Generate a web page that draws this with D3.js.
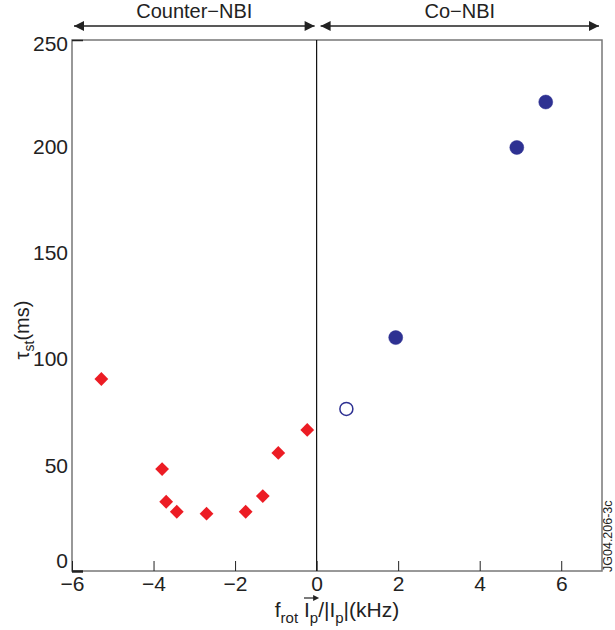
<!DOCTYPE html>
<html>
<head>
<meta charset="utf-8">
<script src="https://cdn.jsdelivr.net/npm/d3@7"></script>
<style>
    body { margin: 0; background: #fff; }
    text { font-family: "Liberation Sans", Arial, sans-serif; fill: #222; }
</style>
</head>
<body>
<div id="chart"></div>
<script>
(function () {
    'use strict';

    // counter-NBI shots (red diamonds)
    var counterX = [-5.28, -3.79, -3.69, -3.43, -2.70, -1.74, -1.32, -0.94, -0.23],
        counterY = [90.4, 48.0, 32.6, 27.9, 27.0, 27.9, 35.3, 55.6, 66.4],
        // co-NBI shots (blue circles), first one drawn open
        coX = [0.73, 1.94, 4.91, 5.62],
        coY = [76.3, 109.9, 199.4, 220.8],
        coOpen = [true, false, false, false],
        xTicks = [-6, -4, -2, 0, 2, 4, 6],
        yTicks = [0, 50, 100, 150, 200, 250],
        regions = [
            { label: 'Counter\u2212NBI', from: -6, to: 0 },
            { label: 'Co\u2212NBI', from: 0, to: 7 }
        ];

    var width = 615,
        height = 630,
        left = 72, right = 602, top = 40, bottom = 571,

        svg = d3.select('#chart')
            .append('svg')
            .attr('width', width)
            .attr('height', height),

        x = d3.scaleLinear().domain([-6, 7]).range([left, right]),
        y = d3.scaleLinear().domain([0, 250]).range([bottom, top]);

    // frame
    svg.append('rect')
        .attr('x', left)
        .attr('y', top)
        .attr('width', right - left)
        .attr('height', bottom - top)
        .style('fill', 'none')
        .style('stroke', '#777')
        .style('stroke-width', '1.5px');

    // zero line
    svg.append('line')
        .attr('x1', x(0)).attr('x2', x(0))
        .attr('y1', top).attr('y2', bottom)
        .style('stroke', '#111')
        .style('stroke-width', '1.2px');

    // x axis, ticks pointing in
    var xAxis = svg.append('g')
        .attr('transform', 'translate(0,' + bottom + ')')
        .call(d3.axisBottom(x)
            .tickValues(xTicks)
            .tickSizeInner(-10)
            .tickSizeOuter(0)
            .tickPadding(5)
            .tickFormat(function (d) { return d < 0 ? '\u2212' + Math.abs(d) : d; }));
    xAxis.select('.domain').remove();
    xAxis.selectAll('line').style('stroke', '#222').style('stroke-width', '1px');
    xAxis.selectAll('text')
        .style('font-size', '21px')
        .style('font-family', '"Liberation Sans", Arial, sans-serif')
        .style('fill', '#222');

    // y axis, only the end ticks are marked; end labels pulled inside
    var yAxis = svg.append('g')
        .attr('transform', 'translate(' + left + ',0)')
        .call(d3.axisLeft(y)
            .tickValues(yTicks)
            .tickSizeInner(0)
            .tickSizeOuter(0)
            .tickPadding(4));
    yAxis.select('.domain').remove();
    yAxis.selectAll('text')
        .attr('dy', function (d) {
            if (d === 0) { return '-0.15em'; }
            if (d === 250) { return '0.5em'; }
            return '0.35em';
        })
        .style('font-size', '21px')
        .style('font-family', '"Liberation Sans", Arial, sans-serif')
        .style('fill', '#222');
    yAxis.selectAll('.tick')
        .filter(function (d) { return d === 0 || d === 250; })
        .append('line')
        .attr('x1', 0).attr('x2', 11)
        .style('stroke', '#222')
        .style('stroke-width', function (d) { return d === 0 ? '2.5px' : '1.5px'; });

    // region arrows across the top
    var defs = svg.append('defs');
    defs.append('marker')
        .attr('id', 'head')
        .attr('viewBox', '0 0 10 10')
        .attr('refX', 10).attr('refY', 5)
        .attr('markerWidth', 12).attr('markerHeight', 10)
        .attr('markerUnits', 'userSpaceOnUse')
        .attr('orient', 'auto-start-reverse')
        .append('path')
        .attr('d', 'M0,0L10,5L0,10z')
        .style('fill', '#222');

    var arrowY = 26;
    regions.forEach(function (r, i) {
        var x1 = x(r.from) + (i === 0 ? 2 : 4),
            x2 = x(r.to) - (i === 0 ? 2 : 3);
        svg.append('line')
            .attr('x1', x1).attr('x2', x2)
            .attr('y1', arrowY).attr('y2', arrowY)
            .attr('marker-start', 'url(#head)')
            .attr('marker-end', 'url(#head)')
            .style('stroke', '#222')
            .style('stroke-width', '1.5px');
        svg.append('text')
            .attr('x', (x1 + x2) / 2)
            .attr('y', 18)
            .attr('text-anchor', 'middle')
            .style('font-size', '20px')
            .text(r.label);
    });

    // counter-NBI diamonds
    var counter = counterX.map(function (v, i) { return { x: v, y: counterY[i] }; });
    svg.append('g').selectAll('path')
        .data(counter)
        .enter()
        .append('path')
        .attr('d', d3.symbol().type(d3.symbolSquare).size(95))
        .attr('transform', function (d) {
            return 'translate(' + x(d.x) + ',' + y(d.y) + ') rotate(45)';
        })
        .style('fill', '#ec1c24');

    // co-NBI circles
    var co = coX.map(function (v, i) { return { x: v, y: coY[i], open: coOpen[i] }; });
    svg.append('g').selectAll('circle')
        .data(co)
        .enter()
        .append('circle')
        .attr('cx', function (d) { return x(d.x); })
        .attr('cy', function (d) { return y(d.y); })
        .attr('r', function (d) { return d.open ? 6.5 : 7; })
        .style('fill', function (d) { return d.open ? '#fff' : '#2e3192'; })
        .style('stroke', '#2e3192')
        .style('stroke-width', function (d) { return d.open ? '1.5px' : '0.5px'; });

    // axis titles
    var xt = svg.append('text')
        .attr('x', 337)
        .attr('y', 617)
        .attr('text-anchor', 'middle')
        .style('font-size', '21px');
    xt.append('tspan').text('f');
    xt.append('tspan').attr('dy', 6).style('font-size', '15px').text('rot');
    xt.append('tspan').attr('dy', -6).text(' I');
    xt.append('tspan').attr('dy', 6).style('font-size', '15px').text('p');
    xt.append('tspan').attr('dy', -6).text('/|I');
    xt.append('tspan').attr('dy', 6).style('font-size', '15px').text('p');
    xt.append('tspan').attr('dy', -6).text('|(kHz)');

    // vector arrow over the first I_p
    var node = xt.node(),
        ax1 = node.getStartPositionOfChar(5).x,
        ax2 = node.getEndPositionOfChar(6).x,
        ay = 598;
    svg.append('line')
        .attr('x1', ax1).attr('x2', ax2 - 3)
        .attr('y1', ay).attr('y2', ay)
        .style('stroke', '#222')
        .style('stroke-width', '1.2px');
    svg.append('path')
        .attr('d', 'M' + (ax2 + 1) + ',' + ay + 'L' + (ax2 - 5) + ',' + (ay - 3) + 'L' + (ax2 - 5) + ',' + (ay + 3) + 'z')
        .style('fill', '#222');

    var yt = svg.append('text')
        .attr('transform', 'translate(29,330) rotate(-90)')
        .attr('text-anchor', 'middle')
        .style('font-size', '20px');
    yt.append('tspan').text('\u03c4');
    yt.append('tspan').attr('dy', 5).style('font-size', '14px').text('st');
    yt.append('tspan').attr('dy', -5).text('(ms)');

    // figure id
    svg.append('text')
        .attr('transform', 'translate(612,572) rotate(-90)')
        .style('font-size', '12.5px')
        .text('JG04.206-3c');
}());
</script>
</body>
</html>
